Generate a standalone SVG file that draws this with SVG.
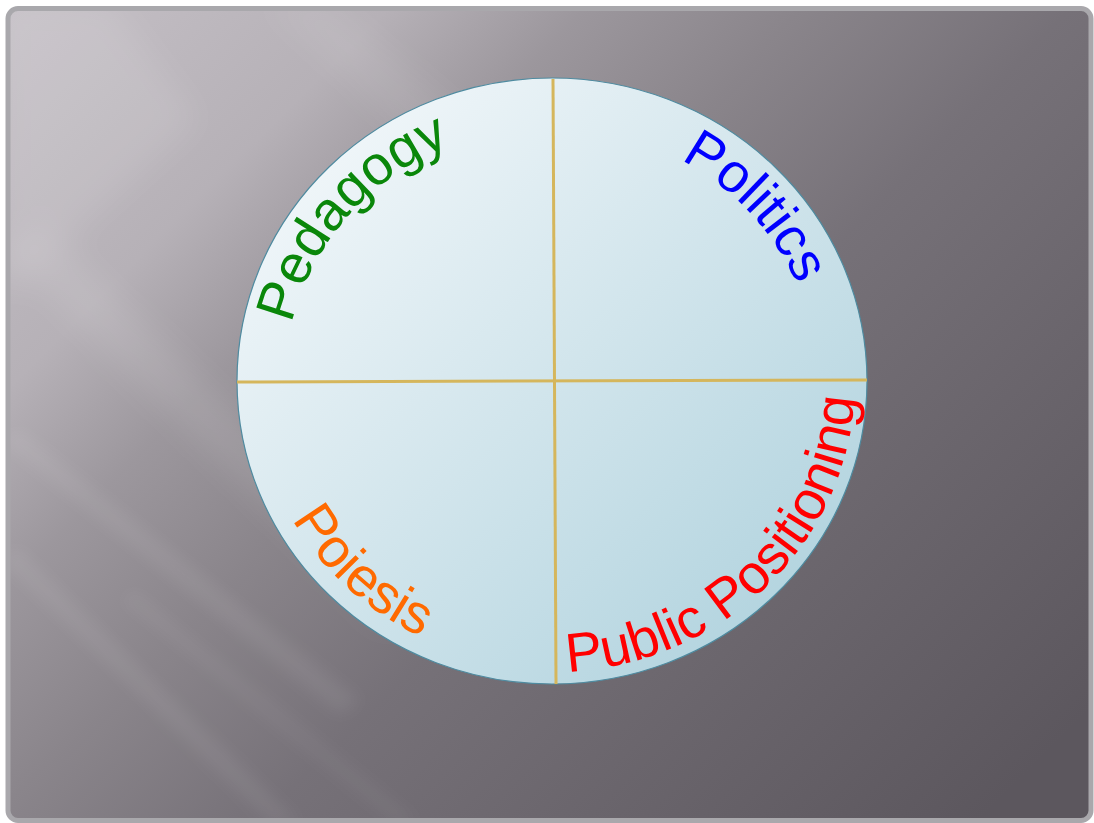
<svg xmlns="http://www.w3.org/2000/svg" width="1094" height="823" viewBox="0 0 1094 823">
  <defs>
    <linearGradient id="bg" gradientUnits="userSpaceOnUse" x1="0" y1="0" x2="900" y2="900">
      <stop offset="0" stop-color="#c6c1c7"/>
      <stop offset="0.22" stop-color="#b6b1b7"/>
      <stop offset="0.33" stop-color="#9c979d"/>
      <stop offset="0.45" stop-color="#8a858b"/>
      <stop offset="0.6" stop-color="#767178"/>
      <stop offset="0.78" stop-color="#6a656c"/>
      <stop offset="1" stop-color="#5c575e"/>
    </linearGradient>
    <linearGradient id="disc" x1="0.15" y1="0.1" x2="0.9" y2="0.85">
      <stop offset="0" stop-color="#f0f6f9"/>
      <stop offset="1" stop-color="#b3d4df"/>
    </linearGradient>
    <filter id="blur" x="-30%" y="-30%" width="160%" height="160%">
      <feGaussianBlur stdDeviation="16"/>
    </filter>
    <filter id="blur2" x="-30%" y="-30%" width="160%" height="160%">
      <feGaussianBlur stdDeviation="8"/>
    </filter>
    <clipPath id="frameClip">
      <rect x="8" y="8.5" width="1083" height="812" rx="10"/>
    </clipPath>
    <path id="pPed" d="M291.8,323.6 A267,255 0 0 1 621.1,134.7"/>
    <path id="pPol" d="M680.5,159.7 A265,253 0 0 1 813,424.9"/>
    <path id="pPoi" d="M292.2,519.2 A297,285 0 0 0 552,666"/>
    <path id="pPub" d="M567.8,671.6 A303,291 0 0 0 814.4,235.5"/>
  </defs>
  <style>
    .lbl { font-family: "Liberation Sans", Arial, sans-serif; font-size: 55px; }
    .div { stroke: #d5b65c; stroke-width: 3; fill: none; }
  </style>

  <g id="background">
    <rect x="8" y="8.5" width="1083" height="812" rx="10" fill="url(#bg)"/>
    <g clip-path="url(#frameClip)">
      <g filter="url(#blur)" fill="#ffffff">
        <polygon points="0,0 110,0 200,120 0,300" opacity="0.10"/>
        <polygon points="0,250 50,230 420,590 390,630" opacity="0.10"/>
        <polygon points="260,0 330,0 560,200 520,240" opacity="0.08"/>
      </g>
      <g filter="url(#blur2)" fill="#ffffff">
        <polygon points="0,440 20,430 360,700 340,715" opacity="0.07"/>
        <polygon points="0,560 18,548 300,823 270,823" opacity="0.07"/>
        <polygon points="120,600 135,590 420,823 395,823" opacity="0.05"/>
      </g>
    </g>
    <rect x="8" y="8.5" width="1083" height="812" rx="10" fill="none" stroke="#a9a8ac" stroke-width="5"/>
  </g>

  <g id="disc-node">
    <ellipse cx="552" cy="381" rx="315" ry="303" fill="url(#disc)" stroke="#4f8ba0" stroke-width="1.2"/>
  </g>

  <g id="connectors">
    <line class="div" x1="553" y1="79" x2="556" y2="684"/>
    <line class="div" x1="237" y1="382" x2="867" y2="380"/>
  </g>

  <g id="pedagogy">
    <text class="lbl" fill="#0a870a"><textPath href="#pPed">Pedagogy</textPath></text>
  </g>
  <g id="politics">
    <text class="lbl" fill="#0000ff"><textPath href="#pPol">Politics</textPath></text>
  </g>
  <g id="poiesis">
    <text class="lbl" fill="#ff6a00"><textPath href="#pPoi">Poiesis</textPath></text>
  </g>
  <g id="public-positioning">
    <text class="lbl" fill="#ff0000"><textPath href="#pPub">Public Positioning</textPath></text>
  </g>
</svg>
